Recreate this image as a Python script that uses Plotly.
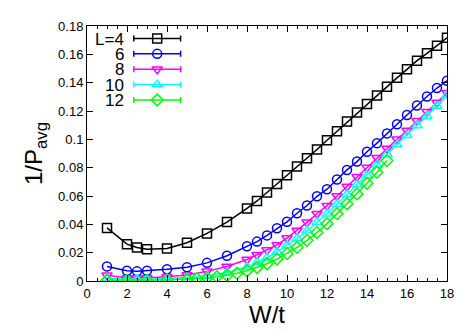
import plotly.graph_objects as go

# ---------------- data ----------------
x_main = [1, 2, 2.5, 3, 4, 5, 6, 7, 8, 8.5, 9, 9.5, 10, 10.5, 11, 11.5, 12, 12.5,
          13, 13.5, 14, 14.5, 15, 15.5, 16, 16.5, 17, 17.5, 18]

y_L4 = [0.0375, 0.0260, 0.0237, 0.0225, 0.0230, 0.0270, 0.0336, 0.0416, 0.0512, 0.0565,
        0.0625, 0.0685, 0.0747, 0.0809, 0.0867, 0.0928, 0.0994, 0.1057, 0.1126, 0.1189,
        0.1250, 0.1310, 0.1372, 0.1434, 0.1494, 0.1555, 0.1607, 0.1660, 0.1717]

y_L6 = [0.0103, 0.0072, 0.0068, 0.0072, 0.0083, 0.0097, 0.0128, 0.0178, 0.0245, 0.0278,
        0.0322, 0.0372, 0.0418, 0.0478, 0.0533, 0.0598, 0.0648, 0.0717, 0.0784, 0.0843,
        0.0912, 0.0973, 0.1042, 0.1106, 0.1172, 0.1239, 0.1302, 0.1362, 0.1414]

y_L8 = [0.0040, 0.0022, 0.0020, 0.0022, 0.0030, 0.0042, 0.0068, 0.0102, 0.0152, 0.0185,
        0.0218, 0.0255, 0.0303, 0.0356, 0.0414, 0.0475, 0.0532, 0.0600, 0.0667, 0.0736,
        0.0802, 0.0870, 0.0935, 0.1000, 0.1062, 0.1131, 0.1195, 0.1260, 0.1329]

y_L10 = [0.0018, 0.0012, 0.0012, 0.0012, 0.0017, 0.0024, 0.0036, 0.0060, 0.0098, 0.0130,
         0.0165, 0.0205, 0.0250, 0.0300, 0.0355, 0.0415, 0.0475, 0.0542, 0.0610, 0.0680,
         0.0745, 0.0820, 0.0895, 0.0962, 0.1028, 0.1097, 0.1163, 0.1235, 0.1312]

x_L12 = [1, 2, 3, 4, 5, 5.5, 6, 6.5, 7, 7.5, 8, 8.5, 9, 9.5, 10, 10.5, 11, 11.5, 12,
         12.5, 13, 13.5, 14, 14.5, 15]
y_L12 = [0.0006, 0.0004, 0.0005, 0.0008, 0.0013, 0.0017, 0.0022, 0.0030, 0.0040, 0.0055,
         0.0072, 0.0095, 0.0122, 0.0155, 0.0193, 0.0237, 0.0287, 0.0342, 0.0405, 0.0475,
         0.0545, 0.0615, 0.0690, 0.0768, 0.0850]

labels = ["L=4", "6", "8", "10", "12"]
colors = ["#000000", "#0000ff", "#ff00ff", "#00ffff", "#00ff00"]
symbols = ["square-open", "circle-open", "triangle-down-open", "triangle-up-open", "diamond-open"]

x_ticks = [0, 2, 4, 6, 8, 10, 12, 14, 16, 18]
y_ticks = [0, 0.02, 0.04, 0.06, 0.08, 0.1, 0.12, 0.14, 0.16, 0.18]
y_ticktext = ["0", "0.02", "0.04", "0.06", "0.08", "0.1", "0.12", "0.14", "0.16", "0.18"]

series = [(x_main, y_L4), (x_main, y_L6), (x_main, y_L8), (x_main, y_L10), (x_L12, y_L12)]

# ---------------- figure ----------------
FONT = "Liberation Sans, Arial, Helvetica, sans-serif"
fig = go.Figure()

for (xs, ys), c, s, lab in zip(series, colors, symbols, labels):
    fig.add_trace(go.Scatter(
        x=xs, y=ys, mode="lines+markers", name=lab, showlegend=False,
        line=dict(color=c, width=1.5),
        marker=dict(symbol=s, size=9, color=c, line=dict(color=c, width=1.5)),
    ))

# gnuplot-style key (text left, sample right) drawn on an overlay axis
key_top = 0.951
key_step = 0.0603
key_mark_x = 0.195
key_half = 0.065
for i, (c, s, lab) in enumerate(zip(colors, symbols, labels)):
    ky = key_top - i * key_step
    fig.add_trace(go.Scatter(
        x=[key_mark_x], y=[ky], xaxis="x2", yaxis="y2", mode="markers",
        showlegend=False, hoverinfo="skip",
        marker=dict(symbol=s, size=9, color=c, line=dict(color=c, width=1.5)),
        error_x=dict(type="constant", value=key_half, color=c, thickness=1.5, width=3),
    ))
    fig.add_annotation(
        x=0.106, y=ky, xref="x2", yref="y2", text=lab, showarrow=False,
        xanchor="right", yanchor="middle", height=14, borderpad=0,
        font=dict(family=FONT, size=17, color="black"),
    )

axis_common = dict(
    showline=True, linecolor="black", linewidth=1, mirror="allticks",
    ticks="inside", ticklen=6, tickwidth=1, tickcolor="black",
    showgrid=False, zeroline=False,
    tickfont=dict(family=FONT, size=13, color="black"),
)

# page body has an 8px margin, so the figure is sized/offset to compensate
fig.update_layout(
    width=467, height=324, autosize=False,
    margin=dict(l=79, r=28, t=11, b=51),
    paper_bgcolor="white", plot_bgcolor="white",
    font=dict(family=FONT, color="black"),
    xaxis=dict(
        range=[0, 18], tickvals=x_ticks, **axis_common,
        minor=dict(dtick=0.5, ticks="inside", ticklen=3, tickcolor="black", showgrid=False),
        title=dict(text="W/t", font=dict(family=FONT, size=24), standoff=4),
    ),
    yaxis=dict(
        range=[0, 0.18], tickvals=y_ticks, ticktext=y_ticktext, **axis_common,
        title=dict(text="1/P<sub>avg</sub>", font=dict(family=FONT, size=24), standoff=8),
    ),
    xaxis2=dict(overlaying="x", range=[0, 1], visible=False, fixedrange=True),
    yaxis2=dict(overlaying="y", range=[0, 1], visible=False, fixedrange=True),
)

fig.write_html("out.html")
